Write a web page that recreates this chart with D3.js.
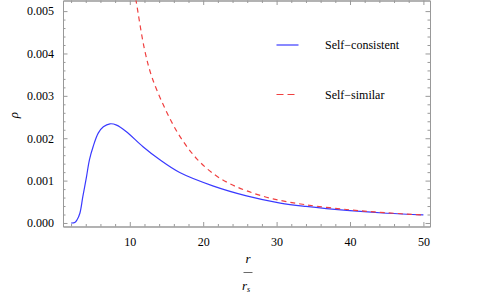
<!DOCTYPE html>
<html>
<head>
<meta charset="utf-8">
<script src="https://cdn.jsdelivr.net/npm/d3@7"></script>
<style>
	body { margin: 0; background: #fff; }
</style>
</head>
<body>
<div id="chart"></div>
<script>
// values (r / r_s, rho)
var consistentR = [2, 2.5, 2.8, 3.2, 3.6, 4.1, 4.5, 5, 5.7, 6.4, 7.3, 8.2, 9.5, 11.8, 14.1, 16.8, 21.4, 25.9, 30.5, 34, 40, 45, 50];
var consistentRho = [0, 0.00001, 0.00007, 0.00023, 0.00062, 0.00109, 0.00149, 0.0018, 0.00212, 0.00227, 0.00234, 0.00231, 0.00216, 0.0018, 0.00149, 0.00119, 0.00087, 0.00064, 0.00047, 0.00039, 0.00029, 0.00023, 0.00019];

var similarR = [10.6, 10.9, 12, 13, 14.8, 16.8, 19.1, 21.4, 23.6, 25.9, 29.5, 34, 40, 45, 50];
var similarRho = [0.0055, 0.0052, 0.0041, 0.00345, 0.0027, 0.00205, 0.00152, 0.00116, 0.00093, 0.00076, 0.00057, 0.00043, 0.00031, 0.00024, 0.00019];

var seriesNames = ["Self\u2212consistent", "Self\u2212similar"];
var xTicks = [10, 20, 30, 40, 50];
var yTicks = [0, 0.001, 0.002, 0.003, 0.004, 0.005];

var width = 485;
var height = 302;
var frame = {left: 63, right: 430, top: 0.5, bottom: 226.5};
var frameColor = "#999999";
var textColor = "#000";
var blue = "#3a3aff";
var red = "#f04040";
var serif = "Liberation Serif";

var x = d3.scaleLinear()
	.domain([0.9, 50.9])
	.range([frame.left, frame.right]);
var y = d3.scaleLinear()
	.domain([-0.000083, 0.00525])
	.range([frame.bottom, frame.top]);

var svg = d3.select("#chart").append("svg")
	.attr("width", width)
	.attr("height", height);

svg.append("clipPath")
	.attr("id", "plotClip")
	.append("rect")
	.attr("x", frame.left)
	.attr("y", frame.top)
	.attr("width", frame.right - frame.left)
	.attr("height", frame.bottom - frame.top);

// minor ticks every 2 on x, every 0.0002 on y
var xMinor = d3.range(2, 51, 2).filter(function(d) { return d % 10 != 0; });
var yMinor = d3.range(0, 26).map(function(i) { return i * 0.0002; })
	.filter(function(d, i) { return i % 5 != 0; });

// frame ticks point inwards on all four sides
var axes = [
	{make: d3.axisBottom, scale: x, pos: "translate(0," + frame.bottom + ")", fmt: d3.format("d"), minor: xMinor, ticks: xTicks, pad: 11},
	{make: d3.axisTop, scale: x, pos: "translate(0," + frame.top + ")", fmt: null, minor: xMinor, ticks: xTicks, pad: 9},
	{make: d3.axisLeft, scale: y, pos: "translate(" + frame.left + ",0)", fmt: d3.format(".3f"), minor: yMinor, ticks: yTicks, pad: 9},
	{make: d3.axisRight, scale: y, pos: "translate(" + frame.right + ",0)", fmt: null, minor: yMinor, ticks: yTicks, pad: 9}
];

axes.forEach(function(a) {
	var g = svg.append("g")
		.attr("transform", a.pos);
	g.append("g").call(a.make(a.scale)
		.tickValues(a.minor)
		.tickSizeInner(-2.5)
		.tickSizeOuter(0)
		.tickFormat(""));
	g.append("g").call(a.make(a.scale)
		.tickValues(a.ticks)
		.tickSizeInner(-4.5)
		.tickSizeOuter(0)
		.tickPadding(a.pad)
		.tickFormat(a.fmt ? a.fmt : ""));
	g.selectAll("path.domain").attr("stroke", frameColor);
	g.selectAll(".tick line").attr("stroke", frameColor);
	g.selectAll("g").attr("font-family", serif);
	g.selectAll(".tick text")
		.attr("fill", textColor)
		.style("font-family", serif)
		.style("font-size", "12px");
});

var line = d3.line()
	.x(function(d) { return x(d[0]); })
	.y(function(d) { return y(d[1]); })
	.curve(d3.curveCatmullRom.alpha(0.5));

var plot = svg.append("g")
	.attr("clip-path", "url(#plotClip)");

plot.append("path")
	.datum(d3.zip(consistentR, consistentRho))
	.attr("d", line)
	.attr("fill", "none")
	.attr("stroke", blue)
	.attr("stroke-width", 1.2);

plot.append("path")
	.datum(d3.zip(similarR, similarRho))
	.attr("d", line)
	.attr("fill", "none")
	.attr("stroke", red)
	.attr("stroke-width", 1.2)
	.attr("stroke-dasharray", "5,4");

// legend
var legend = svg.append("g");
var legendY = [45, 94.5];
var legendColors = [blue, red];
for (var i = 0; i < seriesNames.length; i++) {
	legend.append("line")
		.attr("x1", 276.5)
		.attr("x2", i == 0 ? 298.5 : 295)
		.attr("y1", legendY[i])
		.attr("y2", legendY[i])
		.attr("stroke", legendColors[i])
		.attr("stroke-width", 1.2)
		.attr("stroke-dasharray", i == 0 ? null : "7,4");
	legend.append("text")
		.text(seriesNames[i])
		.attr("x", 325)
		.attr("y", legendY[i] + 4)
		.attr("fill", textColor)
		.style("font-family", serif)
		.style("font-size", "12px");
}

// axis labels
svg.append("text")
	.text("\u03c1")
	.attr("transform", "translate(18,115) rotate(-90)")
	.style("text-anchor", "middle")
	.style("font-family", serif)
	.style("font-style", "italic")
	.style("font-size", "13px")
	.attr("fill", textColor);

var xl = svg.append("g")
	.attr("transform", "translate(248,0)");
xl.append("text")
	.text("r")
	.attr("x", 0)
	.attr("y", 263)
	.style("text-anchor", "middle")
	.style("font-family", serif)
	.style("font-style", "italic")
	.style("font-size", "13px")
	.attr("fill", textColor);
xl.append("line")
	.attr("x1", -4.5)
	.attr("x2", 4.5)
	.attr("y1", 272.5)
	.attr("y2", 272.5)
	.attr("stroke", "#444")
	.attr("stroke-width", 0.8);
var rs = xl.append("text")
	.attr("x", -2)
	.attr("y", 290)
	.style("text-anchor", "middle")
	.style("font-family", serif)
	.style("font-style", "italic")
	.style("font-size", "13px")
	.attr("fill", textColor);
rs.append("tspan").text("r");
rs.append("tspan").text("s")
	.attr("dy", 2)
	.style("font-size", "8px");
</script>
</body>
</html>
